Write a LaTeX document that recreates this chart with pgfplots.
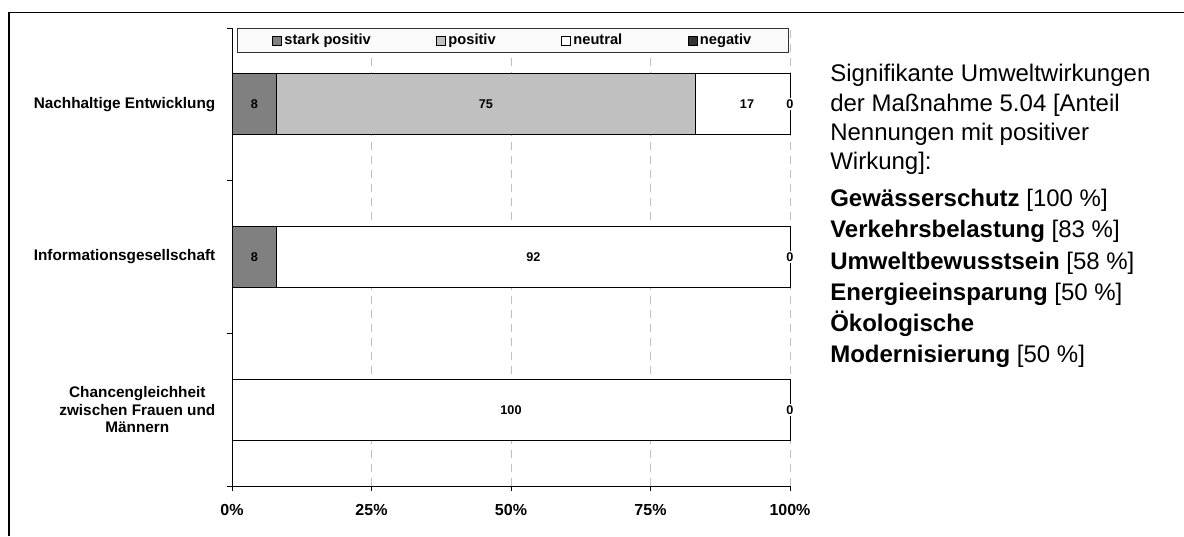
\documentclass[border=0pt]{standalone}
\usepackage{fontspec}
\setmainfont{Liberation Sans}
\usepackage{pgfplots}
\pgfplotsset{compat=1.18}
\definecolor{starkpos}{HTML}{808080}
\definecolor{pos}{HTML}{C0C0C0}
\definecolor{neg}{HTML}{333333}
\definecolor{gridgray}{HTML}{C0C0C0}
\begin{document}
\begin{tikzpicture}
\useasboundingbox (0pt,0pt) rectangle (888pt,402pt);
\draw[line width=1.3pt] (6.75pt,0pt) -- (6.75pt,392.6pt) -- (888pt,392.6pt);
\begin{axis}[
  at={(174pt,37.5pt)}, anchor=south west,
  scale only axis, width=418.5pt, height=343.5pt,
  xbar stacked, bar width=45.75pt, reverse stacked plots=false, clip=false,
  xmin=0, xmax=100, ymin=0, ymax=3,
  axis x line*=bottom, axis y line*=left,
  axis line style={-, black, line width=0.6pt},
  tick align=outside, major tick length=4pt,
  tick style={black, line width=0.6pt},
  xtick={0,25,50,75}, xticklabels={0\%,25\%,50\%,75\%},
  extra x ticks={100}, extra x tick labels={100\%},
  extra x tick style={grid style={solid, gridgray, line width=0.6pt}},
  xmajorgrids,
  major grid style={gridgray, dash pattern=on 6pt off 4.5pt, line width=0.6pt},
  xticklabel style={font=\fontsize{12}{14}\selectfont\bfseries, yshift=-6.5pt},
  ytick={0,1,2,3}, yticklabels={,,,},
  legend style={at={(axis cs:50.36,2.918)}, anchor=center, draw=none, fill=none,
    legend columns=4, font=\fontsize{11}{13}\selectfont\bfseries,
    /tikz/every even column/.append style={column sep=47pt}, inner sep=0pt},
  legend image code/.code={\draw[#1, draw=black, line width=0.5pt] (0pt,-3.4pt) rectangle (6.75pt,3.4pt);},
]
\addplot[fill=starkpos, draw=black, line width=0.6pt] coordinates {(8,2.5) (8,1.5) (0,0.5)};
\addplot[fill=pos, draw=black, line width=0.6pt] coordinates {(75,2.5) (0,1.5) (0,0.5)};
\addplot[fill=white, draw=black, line width=0.6pt] coordinates {(17,2.5) (92,1.5) (100,0.5)};
\addplot[fill=neg, draw=black, line width=0.6pt] coordinates {(0,2.5) (0,1.5) (0,0.5)};
\legend{stark positiv, positiv, neutral, negativ}
\draw[fill=gray!4, draw=black!80, line width=0.6pt] (axis cs:0.9,3) rectangle (axis cs:99.8,2.837);
\node[font=\fontsize{9.5}{11}\selectfont\bfseries] at (axis cs:4,2.5) {8};
\node[font=\fontsize{9.5}{11}\selectfont\bfseries] at (axis cs:45.5,2.5) {75};
\node[font=\fontsize{9.5}{11}\selectfont\bfseries] at (axis cs:92.3,2.5) {17};
\node[font=\fontsize{9.5}{11}\selectfont\bfseries, fill=white, inner sep=1.2pt] at (axis cs:100,2.5) {0};
\node[font=\fontsize{9.5}{11}\selectfont\bfseries] at (axis cs:4,1.5) {8};
\node[font=\fontsize{9.5}{11}\selectfont\bfseries] at (axis cs:54,1.5) {92};
\node[font=\fontsize{9.5}{11}\selectfont\bfseries, fill=white, inner sep=1.2pt] at (axis cs:100,1.5) {0};
\node[font=\fontsize{9.5}{11}\selectfont\bfseries] at (axis cs:50,0.5) {100};
\node[font=\fontsize{9.5}{11}\selectfont\bfseries, fill=white, inner sep=1.2pt] at (axis cs:100,0.5) {0};
\node[font=\fontsize{11.5}{13}\selectfont\bfseries, anchor=east, align=center, xshift=-9pt] at (axis cs:0,2.5) {Nachhaltige Entwicklung};
\node[font=\fontsize{11.5}{13}\selectfont\bfseries, anchor=east, align=center, xshift=-9pt] at (axis cs:0,1.5) {Informationsgesellschaft};
\node[font=\fontsize{11.5}{13}\selectfont\bfseries, anchor=east, align=center, xshift=-9pt] at (axis cs:0,0.5) {Chancengleichheit\\zwischen Frauen und\\Männern};
\end{axis}
\node[anchor=base west, inner sep=0pt, font=\fontsize{18}{22}\selectfont] at (622.5pt,340.5pt) {Signifikante Umweltwirkungen};
\node[anchor=base west, inner sep=0pt, font=\fontsize{18}{22}\selectfont] at (622.5pt,318.4pt) {der Maßnahme 5.04 [Anteil};
\node[anchor=base west, inner sep=0pt, font=\fontsize{18}{22}\selectfont] at (622.5pt,296.25pt) {Nennungen mit positiver};
\node[anchor=base west, inner sep=0pt, font=\fontsize{18}{22}\selectfont] at (622.5pt,274.5pt) {Wirkung]:};
\node[anchor=base west, inner sep=0pt, font=\fontsize{18}{22}\selectfont] at (622.5pt,246.75pt) {\textbf{Gewässerschutz} [100 \%]};
\node[anchor=base west, inner sep=0pt, font=\fontsize{18}{22}\selectfont] at (622.5pt,223.5pt) {\textbf{Verkehrsbelastung} [83 \%]};
\node[anchor=base west, inner sep=0pt, font=\fontsize{18}{22}\selectfont] at (622.5pt,200.25pt) {\textbf{Umweltbewusstsein} [58 \%]};
\node[anchor=base west, inner sep=0pt, font=\fontsize{18}{22}\selectfont] at (622.5pt,177pt) {\textbf{Energieeinsparung} [50 \%]};
\node[anchor=base west, inner sep=0pt, font=\fontsize{18}{22}\selectfont] at (622.5pt,153.75pt) {\textbf{Ökologische}};
\node[anchor=base west, inner sep=0pt, font=\fontsize{18}{22}\selectfont] at (622.5pt,130.5pt) {\textbf{Modernisierung} [50 \%]};
\end{tikzpicture}
\end{document}
